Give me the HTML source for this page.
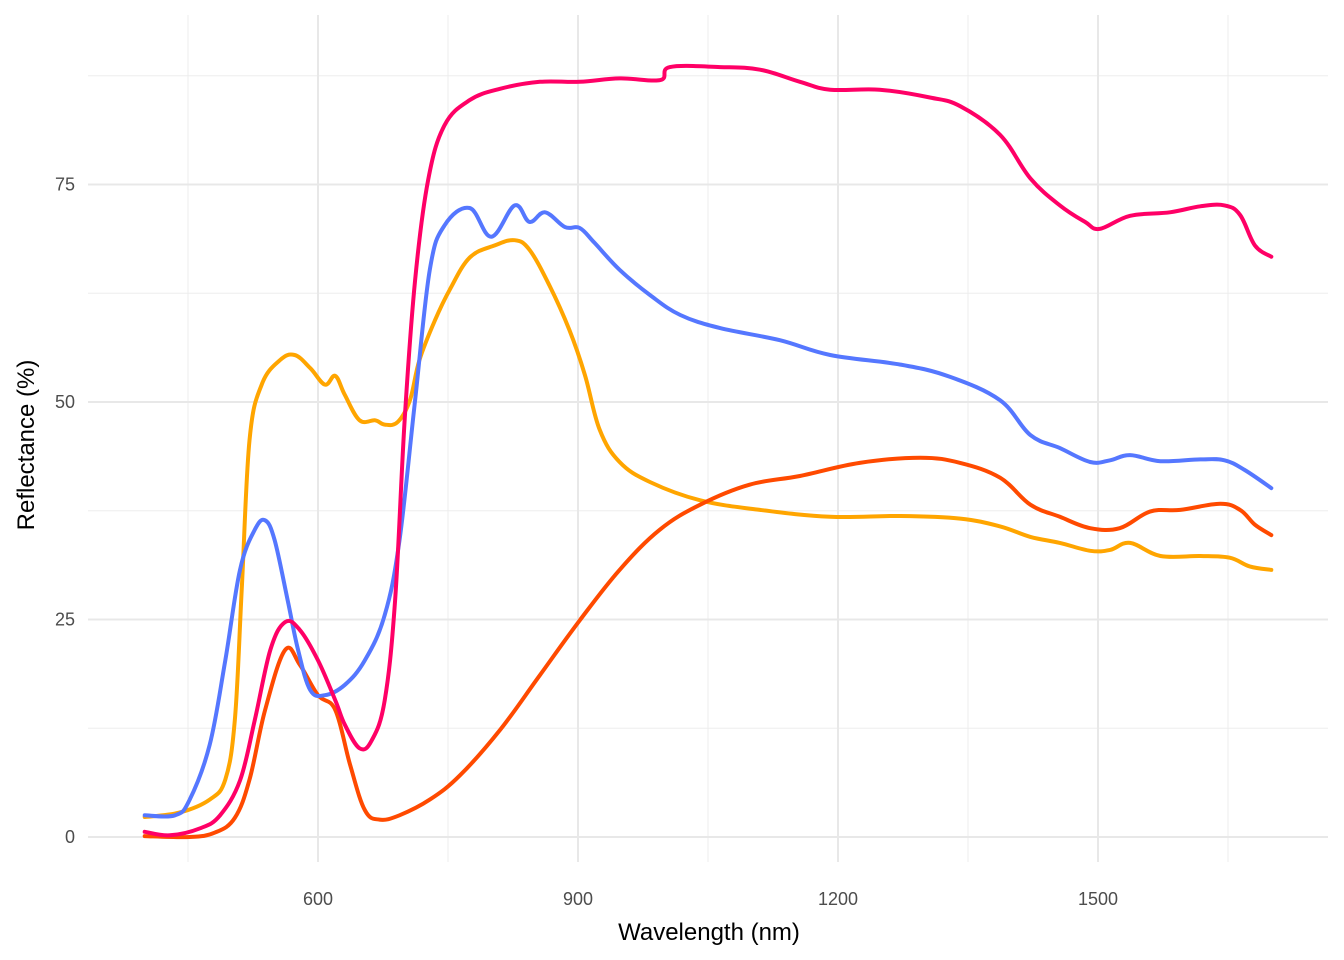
<!DOCTYPE html>
<html><head><meta charset="utf-8"><style>
html,body{margin:0;padding:0;background:#fff;}
svg{display:block;font-family:"Liberation Sans",sans-serif;}
</style></head><body>
<svg id="chart" width="1344" height="960" xmlns="http://www.w3.org/2000/svg">
<g id="grid"></g>
<g id="series"></g>
<g id="axes"></g>
<text x="709" y="940" font-size="24" text-anchor="middle" fill="#000">Wavelength (nm)</text>
<text transform="translate(34,445) rotate(-90)" font-size="24" text-anchor="middle" fill="#000">Reflectance (%)</text>
</svg>
<script>
const xTicks=[600,900,1200,1500];
const xMinor=[450,750,1050,1350,1650];
const yTicks=[0,25,50,75];
const yMinor=[12.5,37.5,62.5,87.5];
const pinkW=[400,429,464,487,510,527,545,562,579,600,620,631,648,662,677,689,700,712,727,746,775,810,856,902,948,995,1006,1064,1110,1156,1191,1248,1306,1341,1387,1422,1456,1485,1502,1537,1583,1618,1646,1664,1681,1700];
const pinkV=[0.6,0.2,1.0,2.5,6.5,13.4,21.5,24.7,23.8,20.3,15.7,12.9,10.2,11.1,15.7,27.2,48,64,75.5,81.8,84.7,86,86.8,86.8,87.2,87,88.5,88.5,88.2,86.8,85.9,85.9,85,84,80.7,75.7,72.6,70.7,69.9,71.4,71.8,72.5,72.6,71.5,68,66.7];
const blueW=[400,435,452,475,493,510,527,539,550,565,577,591,608,631,654,677,694,712,729,746,775,800,827,844,862,885,902,919,948,983,1018,1064,1133,1191,1272,1329,1387,1422,1456,1491,1514,1537,1572,1618,1646,1669,1700];
const blueV=[2.5,2.5,4.3,10.6,20.3,30.7,35.3,36.4,34.1,27.2,21.5,16.9,16.3,17.5,20.3,25.5,34.1,50.2,65.2,70.3,72.3,69,72.6,70.7,71.8,70.1,70,68.3,65.2,62.3,60,58.5,57.1,55.4,54.3,52.9,50.2,46.2,44.7,43.1,43.3,43.9,43.2,43.4,43.3,42.2,40.1];
const orangeW=[400,440,475,493,504,512,521,535,556,573,591,608,620,631,648,666,677,692,706,717,735,752,775,804,827,844,867,890,908,925,948,983,1041,1110,1191,1272,1341,1387,1422,1456,1491,1514,1537,1572,1618,1652,1675,1700];
const orangeV=[2.3,2.8,4.3,6.6,13.4,28.4,45.6,52,54.8,55.4,53.9,52,53,50.8,47.9,47.9,47.4,47.7,50.2,54.8,59.4,62.9,66.6,68,68.6,67.5,63.4,58.3,53.1,46.8,43.1,40.8,38.7,37.6,36.8,36.9,36.6,35.7,34.5,33.8,32.9,33,33.8,32.3,32.3,32.1,31.1,30.7];
const redW=[400,452,481,504,521,539,562,579,600,620,637,654,671,694,729,764,810,856,902,948,994,1041,1098,1156,1225,1295,1341,1387,1422,1456,1491,1525,1560,1595,1641,1664,1681,1700];
const redV=[0.1,0,0.5,2.2,6.6,14.6,21.5,19.8,16.3,14.6,8.3,3.1,2,2.5,4.3,7.1,12.3,18.6,24.9,30.7,35.3,38.2,40.5,41.5,43,43.6,43,41.3,38.2,36.8,35.5,35.5,37.4,37.6,38.3,37.6,35.9,34.7];

const NS="http://www.w3.org/2000/svg";
const X=w=>318+(w-600)*(260/300);
const Y=v=>837-v*(217.5/25);
const grid=document.getElementById('grid'),axes=document.getElementById('axes'),ser=document.getElementById('series');
function line(x1,y1,x2,y2,c,sw,name){const l=document.createElementNS(NS,'line');
l.setAttribute('x1',x1);l.setAttribute('y1',y1);l.setAttribute('x2',x2);l.setAttribute('y2',y2);
l.setAttribute('stroke',c);l.setAttribute('stroke-width',sw);


grid.appendChild(l);}
xMinor.forEach(w=>line(X(w),15,X(w),862,'#ededed',1,'x-minor-gridline'));
yMinor.forEach(v=>line(88,Y(v),1328,Y(v),'#ededed',1,'y-minor-gridline'));
xTicks.forEach(w=>line(X(w),15,X(w),862,'#e8e8e8',2,'x-major-gridline'));
yTicks.forEach(v=>line(88,Y(v),1328,Y(v),'#e8e8e8',2,'y-major-gridline'));
function txt(x,y,s,anchor,name){const t=document.createElementNS(NS,'text');
t.setAttribute('x',x);t.setAttribute('y',y);t.setAttribute('font-size','18');t.setAttribute('fill','#4d4d4d');t.setAttribute('text-anchor',anchor);
t.textContent=s;


axes.appendChild(t);}
xTicks.forEach(w=>txt(X(w),905,String(w),'middle','x-tick-label'));
yTicks.forEach(v=>txt(75,Y(v)+6,String(v),'end','y-tick-label'));
function series(W,V,c,name){
const P=W.map((w,i)=>[X(w),Y(V[i])]);
let d='M'+P[0][0].toFixed(1)+' '+P[0][1].toFixed(1);
for(let i=0;i<P.length-1;i++){const p0=P[Math.max(0,i-1)],p1=P[i],p2=P[i+1],p3=P[Math.min(P.length-1,i+2)];
const t=0.18;
const c1=[p1[0]+(p2[0]-p0[0])*t,p1[1]+(p2[1]-p0[1])*t];
const c2=[p2[0]-(p3[0]-p1[0])*t,p2[1]-(p3[1]-p1[1])*t];
d+=' C'+c1[0].toFixed(1)+' '+c1[1].toFixed(1)+' '+c2[0].toFixed(1)+' '+c2[1].toFixed(1)+' '+p2[0].toFixed(1)+' '+p2[1].toFixed(1);}
const p=document.createElementNS(NS,'path');
p.setAttribute('d',d);
p.setAttribute('fill','none');p.setAttribute('stroke',c);p.setAttribute('stroke-width','4');
p.setAttribute('stroke-linejoin','round');p.setAttribute('stroke-linecap','round');


ser.appendChild(p);}
series(orangeW,orangeV,'#FFA500','orange-series-line');
series(redW,redV,'#FF4A00','red-series-line');
series(blueW,blueV,'#5577FF','blue-series-line');
series(pinkW,pinkV,'#FF0066','pink-series-line');
</script>
</body></html>
